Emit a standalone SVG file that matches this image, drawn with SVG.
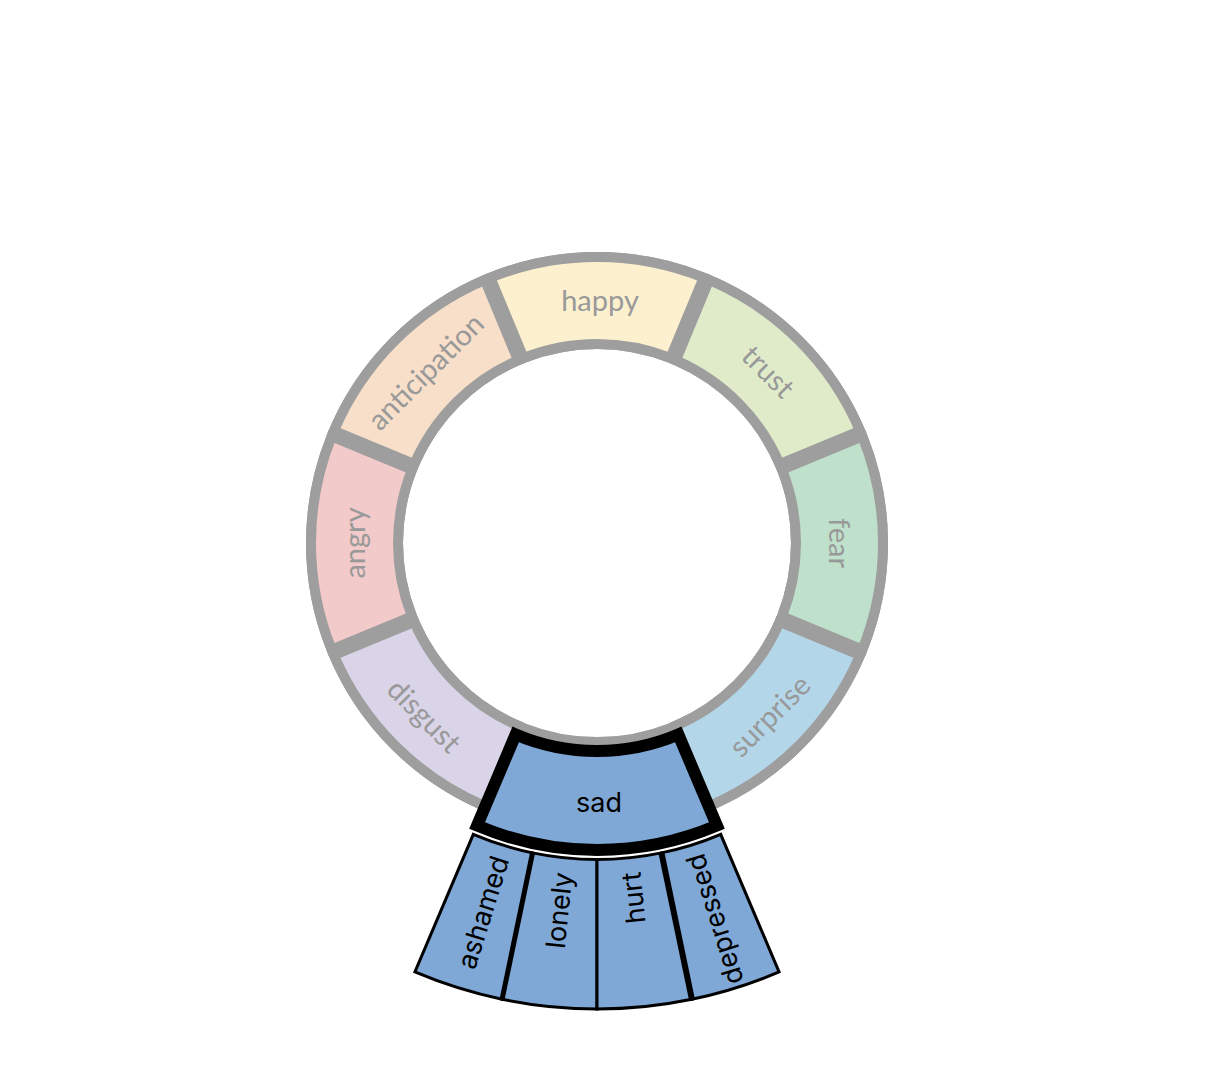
<svg xmlns="http://www.w3.org/2000/svg" width="1206" height="1082" viewBox="0 0 1206 1082">
<style>
.seg{stroke:#9e9e9e;stroke-width:10;stroke-linejoin:miter}
.lbl{font-family:Lato,"Open Sans",sans-serif;font-size:29px;fill:#999;text-anchor:middle}
.sadseg{fill:#7fa8d6;stroke:#000;stroke-width:12;stroke-linejoin:miter}
.child{fill:#7fa8d6;stroke:#000;stroke-width:3;stroke-linejoin:miter}
.div{stroke:#000;fill:none}
.clbl{font-family:Inter,"Liberation Sans",sans-serif;font-size:27px;fill:#000}
</style>
<rect width="1206" height="1082" fill="#fff"/>
<circle cx="597" cy="543" r="242.5" fill="none" stroke="#9e9e9e" stroke-width="97"/>
<g id="happy">
<path class="seg" fill="#fdf0cf" d="M490.33 277.64A286 286 0 0 1 703.67 277.64L670.37 358.02A199 199 0 0 0 523.63 358.02Z"/>
<text class="lbl" x="600" y="311">happy</text>
</g>
<g id="trust" transform="rotate(45 597 543)">
<path class="seg" fill="#e0ecc9" d="M490.33 277.64A286 286 0 0 1 703.67 277.64L670.37 358.02A199 199 0 0 0 523.63 358.02Z"/>
<text class="lbl" x="597" y="311">trust</text>
</g>
<g id="fear" transform="rotate(90 597 543)">
<path class="seg" fill="#bfe1cb" d="M490.33 277.64A286 286 0 0 1 703.67 277.64L670.37 358.02A199 199 0 0 0 523.63 358.02Z"/>
<text class="lbl" x="597" y="311">fear</text>
</g>
<g id="surprise" transform="rotate(135 597 543)">
<path class="seg" fill="#b3d6e9" d="M490.33 277.64A286 286 0 0 1 703.67 277.64L670.37 358.02A199 199 0 0 0 523.63 358.02Z"/>
<text class="lbl" x="597" y="311" transform="rotate(180 597 299.75)">surprise</text>
</g>
<g id="disgust" transform="rotate(225 597 543)">
<path class="seg" fill="#d9d4e7" d="M490.33 277.64A286 286 0 0 1 703.67 277.64L670.37 358.02A199 199 0 0 0 523.63 358.02Z"/>
<text class="lbl" x="597" y="311" transform="rotate(180 597 299.75)">disgust</text>
</g>
<g id="angry" transform="rotate(270 597 543)">
<path class="seg" fill="#f2cac9" d="M490.33 277.64A286 286 0 0 1 703.67 277.64L670.37 358.02A199 199 0 0 0 523.63 358.02Z"/>
<text class="lbl" x="597" y="311">angry</text>
</g>
<g id="anticipation" transform="rotate(315 597 543)">
<path class="seg" fill="#f7dfc9" d="M490.33 277.64A286 286 0 0 1 703.67 277.64L670.37 358.02A199 199 0 0 0 523.63 358.02Z"/>
<text class="lbl" x="597" y="311">anticipation</text>
</g>
<g id="sad">
<path class="sadseg" d="M515.73 734.46A208 208 0 0 0 678.27 734.46L716.95 825.59A307 307 0 0 1 477.05 825.59Z"/>
<text class="clbl" x="599" y="812" text-anchor="middle">sad</text>
</g>
<g id="ashamed">
<path class="child" d="M473.33 834.34A316.5 316.5 0 0 0 532.55 852.87L502.10 999.24A466 466 0 0 1 414.92 971.95Z"/>
<text class="clbl" text-anchor="end" dy="0.35em" transform="translate(500.5 856.9) rotate(-72.6)">ashamed</text>
</g>
<g id="lonely">
<path class="child" d="M532.55 852.87A316.5 316.5 0 0 0 597 859.5L597 1009A466 466 0 0 1 502.10 999.24Z"/>
<text class="clbl" text-anchor="end" dy="0.35em" transform="translate(563.1 872.3) rotate(-84.1)">lonely</text>
</g>
<g id="hurt">
<path class="child" d="M597 859.5A316.5 316.5 0 0 0 661.45 852.87L691.90 999.24A466 466 0 0 1 597 1009Z"/>
<text class="clbl" text-anchor="end" dy="0.35em" transform="translate(630.9 872.3) rotate(-95.9)">hurt</text>
</g>
<g id="depressed">
<path class="child" d="M661.45 852.87A316.5 316.5 0 0 0 720.67 834.34L779.08 971.95A466 466 0 0 1 691.90 999.24Z"/>
<text class="clbl" text-anchor="end" dy="0.35em" transform="translate(694.6 854.9) rotate(-107.4)">depressed</text>
</g>
<g id="connectors">
<line class="div" stroke-width="5" x1="532.55" y1="852.87" x2="502.10" y2="999.24"/>
<line class="div" stroke-width="6" x1="661.45" y1="852.87" x2="691.90" y2="999.24"/>
</g>
</svg>
